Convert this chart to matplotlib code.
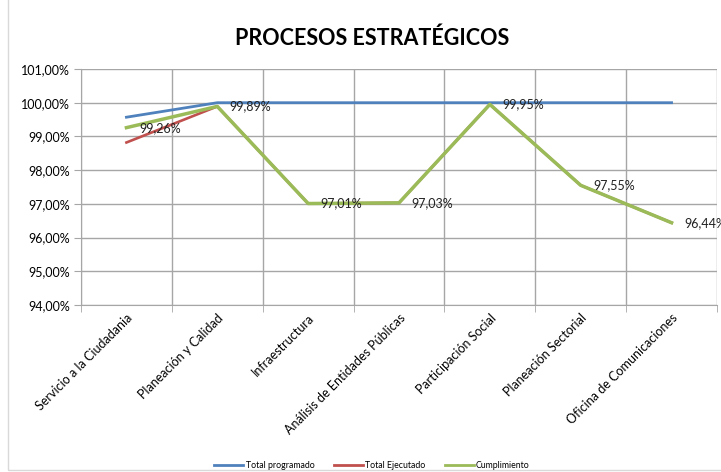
import matplotlib
matplotlib.use("Agg")
import matplotlib.pyplot as plt
from matplotlib.patches import Rectangle
from matplotlib.ticker import FuncFormatter, FixedLocator

categories = ["Servicio a la Ciudadania", "Planeación y Calidad", "Infraestructura",
              "Análisis de Entidades Públicas", "Participación Social",
              "Planeación Sectorial", "Oficina de Comunicaciones"]
total_programado = [99.57, 100.00, 100.00, 100.00, 100.00, 100.00, 100.00]
total_ejecutado = [98.82, 99.89, 97.01, 97.03, 99.95, 97.55, 96.44]
cumplimiento = [99.26, 99.89, 97.01, 97.03, 99.95, 97.55, 96.44]
y_ticks = [94, 95, 96, 97, 98, 99, 100, 101]

plt.rcParams['font.family'] = ['Lato', 'DejaVu Sans']

fig = plt.figure(figsize=(7.21, 4.72), dpi=100)
ax = fig.add_axes([81/721, 1-305/472, (717-81)/721, (305-69)/472])

x = list(range(len(categories)))
grid_c = "#A6A6A6"
ax.plot(x, total_programado, color="#4F81BD", lw=2.0, label="Total programado", zorder=3)
ax.plot(x, total_ejecutado, color="#C0504D", lw=1.9, label="Total Ejecutado", zorder=4)
ax.plot(x, cumplimiento, color="#9BBB59", lw=2.5, label="Cumplimiento", zorder=5)

for xi, v in zip(x, cumplimiento):
    ax.annotate(f"{v:.2f}%".replace(".", ","), (xi, v), xytext=(9, 0),
                textcoords="offset points", ha="left", va="center",
                fontsize=9, color="#222222", annotation_clip=False, zorder=6)

ax.set_xlim(-0.5, len(categories) - 0.5)
ax.set_ylim(94, 101)
ax.set_yticks(y_ticks)
ax.yaxis.set_major_formatter(FuncFormatter(lambda v, p: f"{v:.2f}%".replace(".", ",")))
ax.set_xticks(x)
ax.set_xticklabels(categories, rotation=45, ha="right", rotation_mode="anchor", fontsize=9)
ax.xaxis.set_minor_locator(FixedLocator([i - 0.5 for i in range(len(categories) + 1)]))
ax.tick_params(axis="x", which="major", length=0, pad=5)
ax.tick_params(axis="x", which="minor", length=5, color=grid_c, direction="out")
ax.tick_params(axis="y", length=5, color=grid_c, labelsize=9, pad=3)
ax.grid(True, axis="y", which="major", color=grid_c, lw=1)
ax.grid(True, axis="x", which="minor", color=grid_c, lw=1)
for s in ax.spines.values():
    s.set_color(grid_c)
ax.spines["top"].set_visible(False)
ax.spines["right"].set_visible(False)

fig.text(372/721, 1-38/472, "PROCESOS ESTRATÉGICOS", ha="center", va="center",
         fontsize=15.5, fontweight="bold", color="#000000")

leg = fig.legend(loc="center", bbox_to_anchor=(372/721, 1-466/472), ncol=3,
                 frameon=False, fontsize=6.3, handlelength=3.3, columnspacing=2.2,
                 handletextpad=0.3)
for ln in leg.get_lines():
    ln.set_linewidth(2.0)

fig.patches.append(Rectangle((8/721, 2/472), 1.2, 1.2, transform=fig.transFigure,
                             fill=False, edgecolor="#D9D9D9", lw=1))

fig.savefig("out.png", dpi=100)
